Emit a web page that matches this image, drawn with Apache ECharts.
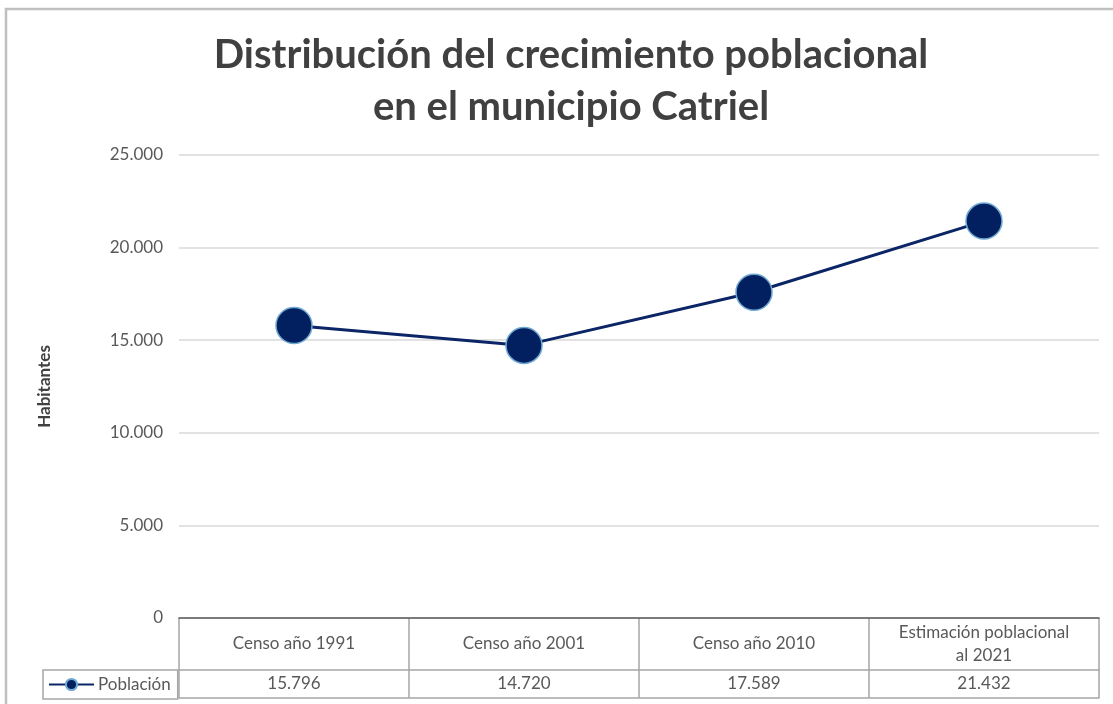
<!DOCTYPE html>
<html>
<head>
<meta charset="utf-8">
<script src="https://cdn.jsdelivr.net/npm/echarts@6/dist/echarts.min.js"></script>
<style>
  html, body { margin: 0; padding: 0; background: #fff; }
  #chart { width: 1113px; height: 704px; }
</style>
</head>
<body>
<div id="chart"></div>
<script>
// datos del grafico
const categorias = ["Censo año 1991", "Censo año 2001", "Censo año 2010", "Estimación poblacional\nal 2021"];
const poblacion = [15796, 14720, 17589, 21432];
const serieNombre = "Población";
const ejeY = { min: 0, max: 25000, interval: 5000 };

function fmtMiles(v) {
  return String(v).replace(/\B(?=(\d{3})+(?!\d))/g, ".");
}

const chart = echarts.init(document.getElementById("chart"));
const gris = "#a6a6a6";
const texto = "#595959";
const fuente = "Lato";

const option = {
  backgroundColor: "#fff",
  textStyle: { fontFamily: fuente },
  title: {
    text: "Distribución del crecimiento poblacional\nen el municipio Catriel",
    left: 566,
    top: 24,
    textAlign: "center",
    textStyle: {
      fontFamily: fuente,
      fontSize: 40,
      fontWeight: "bold",
      color: "#404040",
      lineHeight: 52
    }
  },
  graphic: [
    {
      type: "rect",
      silent: true,
      shape: { x: 6, y: 9, width: 1300, height: 900 },
      style: { fill: "none", stroke: "#bfbfbf", lineWidth: 2.5 },
      z: -10
    }
  ],
  legend: {
    data: [serieNombre],
    left: 43,
    top: 670,
    orient: "horizontal",
    padding: [6, 7, 6, 5],
    itemWidth: 45,
    itemHeight: 14,
    itemGap: 0,
    borderColor: gris,
    borderWidth: 1.5,
    borderRadius: 0,
    textStyle: { fontFamily: fuente, fontSize: 17, lineHeight: 16, color: texto, padding: [0, 0, 0, -1] }
  },
  grid: [
    { left: 179, right: 14, top: 155, height: 463 },
    { left: 179, right: 14, top: 618, height: 52 },
    { left: 179, right: 14, top: 670, height: 28 }
  ],
  xAxis: [
    {
      type: "category",
      gridIndex: 0,
      data: categorias,
      boundaryGap: true,
      axisLine: { show: true, lineStyle: { color: "#595959", width: 1.5 } },
      axisTick: { show: false },
      axisLabel: { show: false },
      splitLine: { show: false }
    },
    {
      type: "category",
      gridIndex: 1,
      data: categorias,
      boundaryGap: true,
      axisLine: { show: true, lineStyle: { color: gris, width: 1.5 } },
      axisTick: { show: false },
      axisLabel: {
        margin: -26,
        verticalAlign: "middle",
        interval: 0,
        fontFamily: fuente,
        fontSize: 17,
        lineHeight: 23,
        color: texto
      },
      splitLine: { show: true, lineStyle: { color: gris, width: 1.5 } }
    },
    {
      type: "category",
      gridIndex: 2,
      data: categorias,
      boundaryGap: true,
      axisLine: { show: true, lineStyle: { color: gris, width: 1.5 } },
      axisTick: { show: false },
      axisLabel: {
        margin: -14,
        verticalAlign: "middle",
        interval: 0,
        fontFamily: fuente,
        fontSize: 17,
        color: texto,
        formatter: function (v, i) { return fmtMiles(poblacion[i]); }
      },
      splitLine: { show: true, lineStyle: { color: gris, width: 1.5 } }
    }
  ],
  yAxis: [
    {
      type: "value",
      gridIndex: 0,
      min: ejeY.min,
      max: ejeY.max,
      interval: ejeY.interval,
      name: "Habitantes",
      nameLocation: "middle",
      nameGap: 126,
      nameTextStyle: { fontFamily: fuente, fontSize: 17, fontWeight: "bold", color: "#404040" },
      axisLine: { show: false },
      axisTick: { show: false },
      axisLabel: {
        margin: 16,
        fontFamily: fuente,
        fontSize: 17,
        color: texto,
        formatter: function (v) { return fmtMiles(v); }
      },
      splitLine: { show: true, lineStyle: { color: "#d9d9d9", width: 1.5 } }
    },
    { type: "value", gridIndex: 1, min: 0, max: 1, show: false },
    { type: "value", gridIndex: 2, min: 0, max: 1, show: false }
  ],
  series: [
    {
      name: serieNombre,
      type: "line",
      xAxisIndex: 0,
      yAxisIndex: 0,
      data: poblacion,
      symbol: "circle",
      symbolSize: 36,
      lineStyle: { color: "#0b2566", width: 3 },
      itemStyle: { color: "#022060", borderColor: "#6fa8d0", borderWidth: 1.5 },
      label: { show: false },
      emphasis: { disabled: true },
      animation: false
    }
  ]
};

chart.setOption(option);
</script>
</body>
</html>
